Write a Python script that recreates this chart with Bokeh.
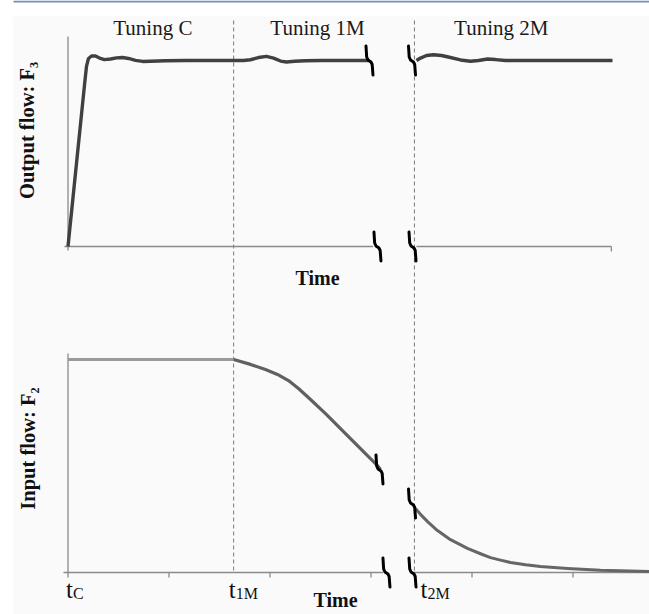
import math
from bokeh.plotting import figure
from bokeh.models import Range1d, BoxAnnotation
from bokeh.core.properties import value
from bokeh.embed import file_html
from bokeh.resources import INLINE

# ---------------- data (time in tick units, flows normalised) ----------------
event_times = [0.0, 1.64, 3.43]          # t_C, t_1M, t_2M
event_subs = ["C", "1M", "2M"]
tuning_labels = ["Tuning C", "Tuning 1M", "Tuning 2M"]
tuning_label_t = [0.84, 2.47, 4.29]
x_ticks = [1, 2, 3, 4, 5]

# Output flow F3 (top panel)
out_t_a = [0.0, 0.163, 0.183, 0.203, 0.233, 0.272, 0.312, 0.361, 0.421, 0.480, 0.540,
           0.599, 0.668, 0.738, 0.817, 0.965, 1.163, 1.738, 1.807, 1.886, 1.965, 2.035,
           2.104, 2.163, 2.243, 2.351, 2.500, 2.985]
out_f_a = [0.0, 0.866, 0.968, 1.011, 1.024, 1.024, 1.013, 1.005, 1.008, 1.014, 1.016,
           1.011, 1.001, 0.995, 0.996, 0.999, 1.0, 1.0, 1.004, 1.016, 1.022, 1.013,
           0.997, 0.992, 0.996, 0.999, 1.0, 1.0]
out_t_b = [3.450, 3.490, 3.550, 3.619, 3.698, 3.787, 3.886, 3.985, 4.064, 4.153, 4.233,
           4.332, 5.391]
out_f_b = [1.0, 1.013, 1.027, 1.031, 1.027, 1.016, 1.003, 0.996, 1.0, 1.008, 1.005,
           1.0, 1.0]

# Input flow F2 (bottom panel)
in_t_flat = [0.0, 1.64]
in_f_flat = [1.0, 1.0]
in_t_drop = [1.64, 1.807, 1.955, 2.074, 2.183, 2.282, 2.401, 2.550, 2.698, 2.866, 3.064, 3.094]
in_f_drop = [1.0, 0.977, 0.953, 0.930, 0.901, 0.864, 0.812, 0.746, 0.676, 0.596, 0.502, 0.484]
in_t_tail = [3.441, 3.490, 3.560, 3.658, 3.787, 3.955, 4.084, 4.183, 4.282, 4.381, 4.530,
             4.678, 4.946, 5.272, 5.757]
in_f_tail = [0.300, 0.273, 0.239, 0.197, 0.154, 0.113, 0.088, 0.070, 0.058, 0.047, 0.036,
             0.028, 0.019, 0.010, 0.005]

# axis breaks
break_top_curve_t = [2.985, 3.406]
break_top_curve_f = [1.0, 1.0]
break_top_axis_t = [3.064, 3.411]
break_bot_curve_t = [3.084, 3.406]
break_bot_curve_f = [0.484, 0.324]
break_bot_axis_t = [3.153, 3.411]
top_axis_spans = [(-0.035, 3.02), (3.45, 5.38)]
bot_axis_spans = [(-0.045, 3.12), (3.42, 5.76)]

# ---------------- layout ----------------
W, H = 649, 614
X0_PX, PX_PER_T = 67.5, 101.0
TOP_BASE_PY, TOP_PX_PER_F = 246.0, 186.0
BOT_BASE_PY, BOT_PX_PER_F = 572.0, 213.0
TXT_SHIFT = 7.5   # compensates the renderer's baseline offset

def tx(px):
    return (px - X0_PX) / PX_PER_T

def fy_top(py):
    return (TOP_BASE_PY - py) / TOP_PX_PER_F

def fy_bot(py):
    return (BOT_BASE_PY - py) / BOT_PX_PER_F

p = figure(width=W, height=H, output_backend="svg", toolbar_location=None,
           x_axis_location=None, y_axis_location=None, title=None,
           x_range=Range1d(tx(0), tx(W)), y_range=Range1d(fy_top(H), fy_top(0)),
           min_border=0)
p.extra_y_ranges = {"bot": Range1d(fy_bot(H), fy_bot(0))}
p.outline_line_color = None
p.background_fill_color = "white"
p.border_fill_color = "white"
p.xgrid.visible = False
p.ygrid.visible = False

# page decoration: light grey field and blue rule
p.add_layout(BoxAnnotation(left=tx(13), top=fy_top(16), fill_color="#fafafa",
                           fill_alpha=1.0, line_color=None, level="underlay"))
p.add_layout(BoxAnnotation(left=tx(13), bottom=fy_top(2), fill_color="#6a94bd",
                           fill_alpha=1.0, line_color=None, level="underlay"))

AX = "#8a8a8a"
serif = value("Liberation Serif")

# vertical dashed event lines
p.segment(x0=event_times[1:], y0=[fy_top(20)] * 2, x1=event_times[1:],
          y1=[fy_top(BOT_BASE_PY)] * 2, line_color="#7a7a7a", line_width=1,
          line_dash="4 3")

# ---- top panel axes ----
p.segment(x0=[s[0] for s in top_axis_spans], y0=[0, 0],
          x1=[s[1] for s in top_axis_spans], y1=[0, 0], line_color=AX, line_width=1.3)
p.segment(x0=[0, top_axis_spans[1][1]], y0=[fy_top(250), fy_top(251)],
          x1=[0, top_axis_spans[1][1]], y1=[fy_top(36), 0], line_color=AX, line_width=1.3)

# ---- bottom panel axes ----
p.segment(x0=[s[0] for s in bot_axis_spans], y0=[0, 0],
          x1=[s[1] for s in bot_axis_spans], y1=[0, 0], line_color=AX, line_width=1.3,
          y_range_name="bot")
p.segment(x0=[0], y0=[fy_bot(577)], x1=[0], y1=[fy_bot(353)], line_color=AX,
          line_width=1.3, y_range_name="bot")
p.segment(x0=x_ticks, y0=[0] * len(x_ticks), x1=x_ticks, y1=[fy_bot(577)] * len(x_ticks),
          line_color=AX, line_width=1.3, y_range_name="bot")

# ---- curves ----
p.line(out_t_a, out_f_a, line_color="#404040", line_width=3.4, line_join="round")
p.line(out_t_b, out_f_b, line_color="#404040", line_width=3.4, line_join="round")
p.line(in_t_flat, in_f_flat, line_color="#9a9a9a", line_width=3.2, y_range_name="bot")
p.line(in_t_drop, in_f_drop, line_color="#606060", line_width=3.2, line_join="round",
       y_range_name="bot")
p.line(in_t_tail, in_f_tail, line_color="#666666", line_width=3.0, line_join="round",
       y_range_name="bot")

# ---- break marks ----
SHAPE = [(-3.5, -14.5), (-2.8, -3.5), (-1.5, -0.5), (1.5, 1.5), (2.7, 4.0), (3.5, 14.5)]

def marks(ts, fs, px_per_f):
    xs = [[t + dx / PX_PER_T for dx, dy in SHAPE] for t in ts]
    ys = [[f - dy / px_per_f for dx, dy in SHAPE] for f in fs]
    return xs, ys

for ts, fs, ppf, rn in [(break_top_curve_t, break_top_curve_f, TOP_PX_PER_F, "default"),
                        (break_top_axis_t, [0, 0], TOP_PX_PER_F, "default"),
                        (break_bot_curve_t, break_bot_curve_f, BOT_PX_PER_F, "bot"),
                        (break_bot_axis_t, [0, 0], BOT_PX_PER_F, "bot")]:
    xs, ys = marks(ts, fs, ppf)
    p.multi_line(xs, ys, line_color="black", line_width=3, line_cap="round",
                 line_join="round", y_range_name=rn)

# ---- texts ----
p.text(x=tuning_label_t, y=[fy_top(34.5 - TXT_SHIFT)] * 3, text=tuning_labels,
       text_font=serif, text_font_size="21px", text_color="#1a1a1a", text_align="center",
       text_baseline="alphabetic")
p.text(x=[tx(317)], y=[fy_top(285 - TXT_SHIFT)], text=["Time"], text_font=serif,
       text_font_size="20px", text_font_style="bold", text_color="#111111",
       text_align="center", text_baseline="alphabetic")
p.text(x=[tx(335)], y=[fy_bot(607 - TXT_SHIFT)], text=["Time"], text_font=serif,
       text_font_size="20px", text_font_style="bold", text_color="#111111",
       text_align="center", text_baseline="alphabetic", y_range_name="bot")
p.text(x=[tx(26)], y=[fy_top(130)], text=["Output flow: F\u2083"], text_font=serif,
       text_font_size="20.5px", text_font_style="bold", text_color="#111111",
       angle=math.pi / 2, text_align="center", text_baseline="middle")
p.text(x=[tx(27)], y=[fy_bot(448)], text=["Input flow: F\u2082"], text_font=serif,
       text_font_size="20.5px", text_font_style="bold", text_color="#111111",
       angle=math.pi / 2, text_align="center", text_baseline="middle", y_range_name="bot")

# tick labels t_C, t_1M, t_2M
LABEL_DX_PX = [5.0, 2.0, 13.0]
anchors = [t + d / PX_PER_T for t, d in zip(event_times, LABEL_DX_PX)]
p.text(x=anchors, y=[fy_bot(596 - TXT_SHIFT)] * 3, text=["t"] * 3, text_font=serif,
       text_font_size="25px", text_color="#111111", text_align="right",
       text_baseline="alphabetic", y_range_name="bot")
p.text(x=anchors, y=[fy_bot(600 - TXT_SHIFT)] * 3, text=event_subs, text_font=serif,
       text_font_size="16px", text_color="#111111", text_align="left",
       text_baseline="alphabetic", y_range_name="bot")

open("out.html", "w").write(file_html(p, INLINE))
